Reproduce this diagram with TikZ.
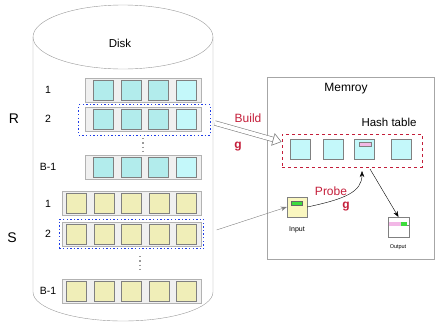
\documentclass[tikz,border=0pt]{standalone}
\usepackage{fontspec}
\setmainfont{Liberation Sans}
\usetikzlibrary{calc,fit,arrows.meta}

\definecolor{cellcyan}{RGB}{178,236,236}
\definecolor{lightcyan}{RGB}{196,248,250}
\definecolor{cellyellow}{RGB}{240,238,184}
\definecolor{inyellow}{RGB}{250,247,192}
\definecolor{hashred}{RGB}{196,30,58}
\definecolor{dotblue}{RGB}{30,60,230}
\definecolor{mygreen}{RGB}{60,220,60}
\definecolor{mypink}{RGB}{242,184,230}

\tikzset{
  rowbox/.style={draw=gray!60, fill=gray!12, inner sep=0, minimum height=24pt},
  cell/.style={draw=gray, inner sep=0, minimum size=20pt},
  numlabel/.style={font=\fontsize{10.5}{12}\selectfont},
  dotbox/.style={draw=dotblue, line width=1.2pt, dash pattern=on 1.4pt off 2.2pt},
  vdots/.style={gray!80, line width=1.3pt, dash pattern=on 1.3pt off 3pt},
  redtext/.style={text=hashred, font=\fontsize{12}{14}\selectfont},
  tiny/.style={draw=gray, inner sep=0, minimum height=4pt}
}

\begin{document}
\begin{tikzpicture}[x=1pt,y=1pt]
\useasboundingbox (0,0) rectangle (435,-322);

% disk cylinder
\draw[gray!80, fill=white] (123,-37) ellipse (90 and 32);
\draw[gray!80] (33,-37) -- (33,-292) arc[start angle=180, end angle=360, x radius=90, y radius=29] -- (213,-37);
\node[font=\fontsize{11.5}{13}\selectfont] (disk) at (120,-43) {Disk};

% relation R
\node[font=\fontsize{14}{16}\selectfont] (rlab) at (14,-119) {R};
\foreach \n/\y/\t in {r1/90/1, r2/119/2, rb/167/B-1} {
  \node[rowbox, minimum width=116pt] (\n) at (143,-\y) {};
  \node[numlabel] (\n-lab) at (48,-\y) {\t};
  \foreach \i in {0,1,2}
    \node[cell, fill=cellcyan] (\n-\i) at (103+27.7*\i,-\y) {};
  \node[cell, fill=lightcyan] (\n-3) at (186,-\y) {};
}
\node[dotbox, inner sep=0, fit={($(r2.south west)+(-6,-4)$) ($(r2.north east)+(9,2)$)}] (r2box) {};
\draw[vdots] (143,-138) -- (143,-153);

% relation S
\node[font=\fontsize{14}{16}\selectfont] (slab) at (12,-238) {S};
\foreach \n/\y/\t in {s1/203.5/1, s2/234/2, sb/291/B-1} {
  \node[rowbox, minimum width=139pt] (\n) at (131.5,-\y) {};
  \node[numlabel] (\n-lab) at (48,-\y) {\t};
  \foreach \i in {0,...,4}
    \node[cell, fill=cellyellow] (\n-\i) at (76.5+27.5*\i,-\y) {};
}
\node[dotbox, inner sep=2.5pt, fit=(s2)] (s2box) {};
\draw[vdots] (140,-256) -- (140,-271);

% memory
\node[draw=gray!70, line width=0.8pt, minimum width=167pt, minimum height=182pt] (mem) at (350.5,-168) {};
\node[font=\fontsize{12}{14}\selectfont] (memlab) at (346,-89) {Memroy};
\node[font=\fontsize{11.5}{13}\selectfont] (htlab) at (389,-122) {Hash table};
\node[draw=hashred, dashed, line width=0.8pt, minimum width=140pt, minimum height=33pt] (hbox) at (352,-150.5) {};
\foreach \n/\x in {h1/300, h2/333.5, h3/364.5, h4/401.5}
  \node[cell, fill=lightcyan] (\n) at (\x,-149) {};
\node[tiny, fill=mypink, minimum width=12pt] (hkey) at (365,-144) {};

% input and output buffers
\node[cell, fill=inyellow] (input) at (297,-207) {};
\node[tiny, fill=mygreen, minimum width=11pt, draw=gray!80!black] (inkey) at (296.5,-203.5) {};
\node[font=\fontsize{7}{8}\selectfont] (inlab) at (297,-230) {Input};
\node[draw=gray, fill=white, inner sep=0, minimum width=21pt, minimum height=19.5pt] (output) at (398.5,-227) {};
\draw[gray] ($(output.north west)+(0,-8.5)$) -- ($(output.north east)+(0,-8.5)$);
\node[tiny, fill=mypink, minimum width=12pt, minimum height=3.7pt, draw=none] (outkey) at (395,-223.8) {};
\node[tiny, fill=mygreen, minimum width=6pt, minimum height=3.7pt, draw=none] (outval) at (404.2,-223.8) {};
\node[font=\fontsize{5.5}{6}\selectfont] (outlab) at (398,-247) {Output};

% build
\draw[gray, line width=0.6pt, double=white, double distance=4pt,
  -{Triangle[open, length=9pt, width=13pt]}] ($(r2box.east)+(4,-3)$) -- (hbox.173);
\node[redtext] (buildlab) at (248,-118) {Build};
\node[redtext, font=\fontsize{12}{14}\bfseries] (buildg) at (238,-147) {g};

% probe
\coordinate (probeend) at (362,-171);
\coordinate (outstart) at (370,-169);
\draw[gray, -{Stealth[length=6pt]}, shorten <=13pt] (s2box.east) -- (input.west);
\draw[-{Stealth[length=6pt]}] (input.east) .. controls (345,-199) and (362,-192) .. (probeend);
\draw[-{Stealth[length=6pt]}] (outstart) -- (output.north);
\node[redtext] (probelab) at (331,-191) {Probe};
\node[redtext, font=\fontsize{12}{14}\bfseries] (probeg) at (346,-207) {g};
\end{tikzpicture}
\end{document}
